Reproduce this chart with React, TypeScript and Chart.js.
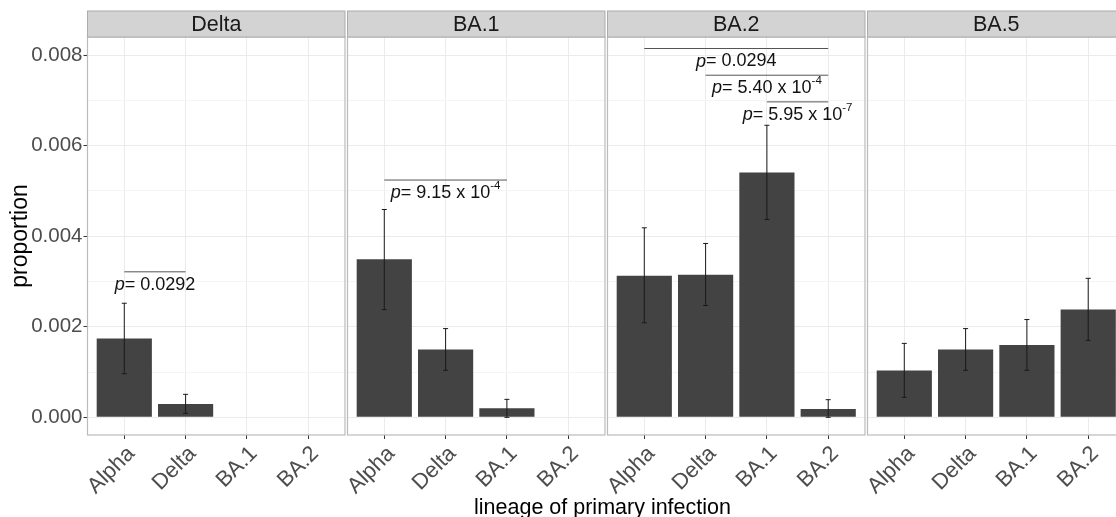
import React, { useEffect, useRef } from "react";
import { Chart, registerables } from "chart.js";

Chart.register(...registerables);

// ---------- data ----------
const PANELS = ["Delta", "BA.1", "BA.2", "BA.5"];
const CATEGORIES = ["Alpha", "Delta", "BA.1", "BA.2"];

const DELTA_VALUES = [0.00174, 0.000294, null, null];
const DELTA_LOW = [0.000963, 0.000088, null, null];
const DELTA_HIGH = [0.00252, 0.000508, null, null];

const BA1_VALUES = [0.00349, 0.0015, 0.0002, null];
const BA1_LOW = [0.00238, 0.00104, 0.0, null];
const BA1_HIGH = [0.00459, 0.00196, 0.000397, null];

const BA2_VALUES = [0.003126, 0.003148, 0.00541, 0.000183];
const BA2_LOW = [0.002088, 0.00247, 0.00437, 0.0];
const BA2_HIGH = [0.004186, 0.00384, 0.00645, 0.00039];

const BA5_VALUES = [0.001037, 0.0015, 0.0016, 0.00238];
const BA5_LOW = [0.000441, 0.00104, 0.00104, 0.0017];
const BA5_HIGH = [0.001633, 0.00196, 0.00216, 0.00307];

const Y_TICKS = [0, 0.001, 0.002, 0.003, 0.004, 0.005, 0.006, 0.007, 0.008];
const Y_MIN = -0.00039;
const Y_MAX = 0.0084;

// significance brackets
const SIG_PANEL = [0, 1, 2, 2, 2];
const SIG_FROM = [0, 0, 0, 1, 2];
const SIG_TO = [1, 2, 3, 3, 3];
const SIG_Y = [0.003214, 0.005241, 0.008146, 0.007556, 0.006967];
const SIG_MANTISSA = ["0.0292", "9.15", "0.0294", "5.40", "5.95"];
const SIG_EXPONENT = ["", "-4", "", "-4", "-7"];

const Y_TITLE = "proportion";
const X_TITLE = "lineage of primary infection";

const VALUES = [DELTA_VALUES, BA1_VALUES, BA2_VALUES, BA5_VALUES];
const LOWS = [DELTA_LOW, BA1_LOW, BA2_LOW, BA5_LOW];
const HIGHS = [DELTA_HIGH, BA1_HIGH, BA2_HIGH, BA5_HIGH];

// ---------- layout ----------
const W = 1130;
const H = 517;
const PANEL_LEFT0 = 87.5;
const PANEL_STEP = 260;
const PANEL_WIDTH = 257.5;
const PLOT_TOP = 37;
const PLOT_BOTTOM = 435;
const STRIP_TOP = 11;
const FAMILY = "'Liberation Sans', Arial, Helvetica, sans-serif";

const isMajor = (v: number) => {
  const k = Math.round(v * 1000);
  return Math.abs(v * 1000 - k) < 1e-6 && k % 2 === 0;
};

function makePlugin(p: number) {
  return {
    id: "facet" + p,
    afterDatasetsDraw(chart: any) {
      const ctx = chart.ctx;
      const xs = chart.scales.x;
      const ys = chart.scales.y;
      const vals = VALUES[p];
      const lo = LOWS[p];
      const hi = HIGHS[p];
      ctx.save();
      // error bars
      ctx.strokeStyle = "#1a1a1a";
      ctx.lineWidth = 1;
      for (let i = 0; i < CATEGORIES.length; i++) {
        if (vals[i] == null) continue;
        const x = xs.getPixelForValue(i);
        const y1 = ys.getPixelForValue(lo[i] as number);
        const y2 = ys.getPixelForValue(hi[i] as number);
        ctx.beginPath();
        ctx.moveTo(x, y1);
        ctx.lineTo(x, y2);
        ctx.moveTo(x - 2.5, y1);
        ctx.lineTo(x + 2.5, y1);
        ctx.moveTo(x - 2.5, y2);
        ctx.lineTo(x + 2.5, y2);
        ctx.stroke();
      }
      // significance brackets
      for (let s = 0; s < SIG_PANEL.length; s++) {
        if (SIG_PANEL[s] !== p) continue;
        const xa = xs.getPixelForValue(SIG_FROM[s]);
        const xb = xs.getPixelForValue(SIG_TO[s]);
        const y = ys.getPixelForValue(SIG_Y[s]);
        ctx.strokeStyle = "#555555";
        ctx.lineWidth = 1;
        ctx.beginPath();
        ctx.moveTo(xa, y);
        ctx.lineTo(xb, y);
        ctx.stroke();
        const fontMain = `18px ${FAMILY}`;
        const fontItal = `italic 18px ${FAMILY}`;
        const fontSup = `11.5px ${FAMILY}`;
        const mainText = SIG_EXPONENT[s]
          ? `= ${SIG_MANTISSA[s]} x 10`
          : `= ${SIG_MANTISSA[s]}`;
        ctx.font = fontItal;
        const w1 = ctx.measureText("p").width;
        ctx.font = fontMain;
        const w2 = ctx.measureText(mainText).width;
        ctx.font = fontSup;
        const w3 = SIG_EXPONENT[s] ? ctx.measureText(SIG_EXPONENT[s]).width : 0;
        const total = w1 + w2 + w3;
        let x0 = (xa + xb) / 2 - total / 2;
        const ty = y + 13;
        ctx.fillStyle = "#111111";
        ctx.textBaseline = "middle";
        ctx.textAlign = "left";
        ctx.font = fontItal;
        ctx.fillText("p", x0, ty);
        x0 += w1;
        ctx.font = fontMain;
        ctx.fillText(mainText, x0, ty);
        x0 += w2;
        if (SIG_EXPONENT[s]) {
          ctx.font = fontSup;
          ctx.fillText(SIG_EXPONENT[s], x0, ty - 7);
        }
      }
      ctx.restore();
    },
    afterDraw(chart: any) {
      const ctx = chart.ctx;
      const a = chart.chartArea;
      ctx.save();
      // panel border
      ctx.strokeStyle = "#bbbbbb";
      ctx.lineWidth = 1.2;
      ctx.strokeRect(a.left, a.top, a.right - a.left, a.bottom - a.top);
      // strip
      ctx.fillStyle = "#d3d3d3";
      ctx.fillRect(a.left, STRIP_TOP, a.right - a.left, a.top - STRIP_TOP);
      ctx.strokeStyle = "#ababab";
      ctx.lineWidth = 1;
      ctx.strokeRect(a.left, STRIP_TOP, a.right - a.left, a.top - STRIP_TOP);
      ctx.fillStyle = "#1a1a1a";
      ctx.font = `21.5px ${FAMILY}`;
      ctx.textAlign = "center";
      ctx.textBaseline = "middle";
      ctx.fillText(PANELS[p], (a.left + a.right) / 2, (STRIP_TOP + a.top) / 2 + 1);
      if (p === 0) {
        ctx.fillStyle = "#000000";
        ctx.font = `21.5px ${FAMILY}`;
        ctx.textAlign = "center";
        ctx.textBaseline = "middle";
        ctx.fillText(X_TITLE, 602.5, 508);
      }
      ctx.restore();
    },
  };
}

function makeConfig(p: number): any {
  const left = PANEL_LEFT0 + p * PANEL_STEP;
  const right = left + PANEL_WIDTH;
  return {
    type: "bar",
    data: {
      datasets: [
        {
          data: CATEGORIES.map((c, i) => ({ x: i, y: VALUES[p][i] })),
          backgroundColor: "#434343",
          borderWidth: 0,
          barPercentage: 0.9,
          categoryPercentage: 1,
        },
      ],
    },
    options: {
      responsive: false,
      animation: false,
      layout: {
        padding: { top: PLOT_TOP, bottom: 0, left: p === 0 ? 0 : left, right: W - right },
      },
      plugins: { legend: { display: false }, tooltip: { enabled: false } },
      scales: {
        x: {
          type: "linear",
          min: -0.6,
          max: 3.6,
          offset: false,
          afterBuildTicks: (s: any) => {
            s.ticks = CATEGORIES.map((_, i) => ({ value: i }));
          },
          afterFit: (s: any) => {
            s.height = H - PLOT_BOTTOM;
            s.paddingLeft = 0;
            s.paddingRight = 0;
          },
          ticks: {
            autoSkip: false,
            maxRotation: 45,
            minRotation: 45,
            padding: 2,
            labelOffset: 7,
            color: "#4d4d4d",
            font: { size: 22, family: FAMILY },
            callback: (v: number) => CATEGORIES[Math.round(v)] ?? "",
          },
          grid: {
            offset: false,
            color: "#ebebeb",
            tickColor: "#333333",
            tickLength: 4,
          },
          border: { display: false },
        },
        y: {
          type: "linear",
          min: Y_MIN,
          max: Y_MAX,
          afterBuildTicks: (s: any) => {
            s.ticks = Y_TICKS.map((v) => ({ value: v }));
          },
          afterFit: (s: any) => {
            s.width = p === 0 ? PANEL_LEFT0 : 0;
            s.paddingTop = 0;
            s.paddingBottom = 0;
          },
          ticks: {
            display: p === 0,
            padding: 1,
            color: "#4d4d4d",
            font: { size: 20.5, family: FAMILY },
            callback: (v: number) => (isMajor(v) ? v.toFixed(3) : ""),
          },
          grid: {
            drawTicks: p === 0,
            tickLength: 4,
            color: (c: any) => (c.tick && isMajor(c.tick.value) ? "#ebebeb" : "#f4f4f4"),
            tickColor: (c: any) =>
              c.tick && isMajor(c.tick.value) ? "#333333" : "rgba(0,0,0,0)",
          },
          border: { display: false },
          title: {
            display: p === 0,
            text: Y_TITLE,
            color: "#000000",
            font: { size: 23, family: FAMILY },
            padding: { top: 7, bottom: 0 },
          },
        },
      },
    },
    plugins: [makePlugin(p)],
  };
}

export default function App() {
  const refs = useRef<(HTMLCanvasElement | null)[]>([]);
  useEffect(() => {
    const charts = PANELS.map((_, p) => new Chart(refs.current[p] as HTMLCanvasElement, makeConfig(p)));
    return () => charts.forEach((c) => c.destroy());
  }, []);
  return (
    <div
      style={{
        position: "absolute",
        left: 0,
        top: 0,
        width: 1116,
        height: 517,
        overflow: "hidden",
        background: "#ffffff",
      }}
    >
      {PANELS.map((_, p) => (
        <canvas
          key={p}
          ref={(el) => {
            refs.current[p] = el;
          }}
          width={W}
          height={H}
          style={{ position: "absolute", left: 0, top: 0, width: W, height: H }}
        />
      ))}
    </div>
  );
}
